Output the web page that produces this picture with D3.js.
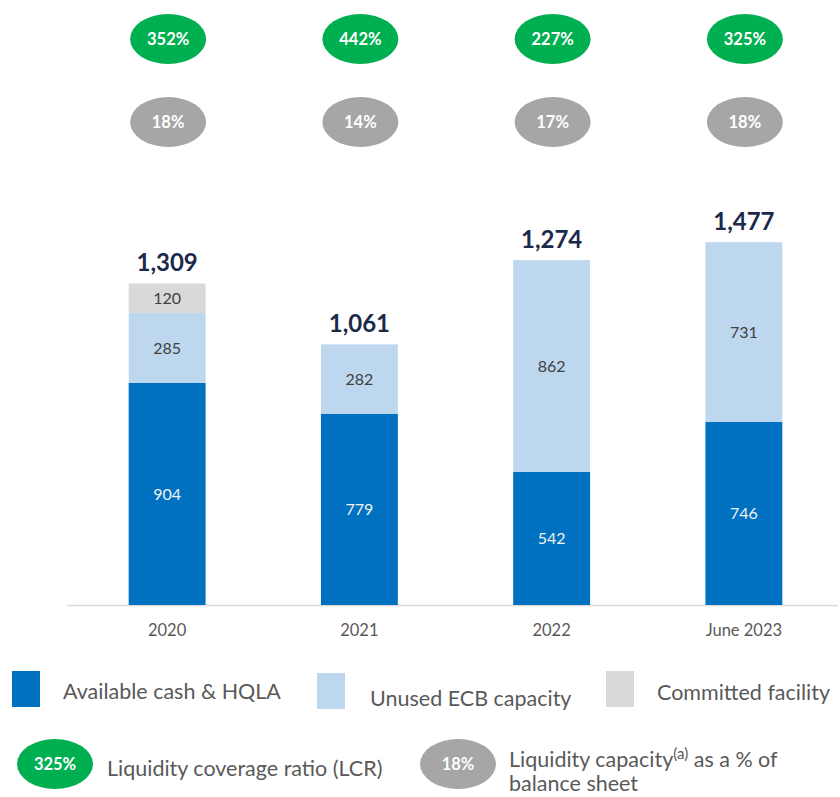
<!DOCTYPE html>
<html>
<head>
<meta charset="utf-8">
<script src="https://cdn.jsdelivr.net/npm/d3@7"></script>
<style>
  html, body { margin: 0; padding: 0; background: #fff; }
  svg { display: block; font-family: Lato, "Open Sans", sans-serif; }
</style>
</head>
<body>
<div id="chart"></div>
<script>
// chart data
const categories = ['2020', '2021', '2022', 'June 2023'];
const cashHqla = [904, 779, 542, 746];       // Available cash & HQLA
const unusedEcb = [285, 282, 862, 731];      // Unused ECB capacity
const committed = [120, 0, 0, 0];            // Committed facility
const totals = [1309, 1061, 1274, 1477];
const lcr = [352, 442, 227, 325];            // liquidity coverage ratio, %
const capacityPct = [18, 14, 17, 18];        // liquidity capacity as % of balance sheet

const seriesNames = ['Available cash & HQLA', 'Unused ECB capacity', 'Committed facility'];

const width = 840, height = 797;
const colour = d3.scaleOrdinal()
    .domain(seriesNames)
    .range(['#0070c0', '#bdd7ee', '#d9d9d9']);

const svg = d3.select('#chart').append('svg')
    .attr('width', width)
    .attr('height', height);

// scales
const x = d3.scaleBand()
    .domain(categories)
    .range([71, 840])
    .paddingInner(0.6)
    .paddingOuter(0.3);

const y = d3.scaleLinear()
    .domain([0, 1600])
    .range([605, 212]);

// stack the three series
const rows = categories.map((c, i) => ({
    cat: c,
    [seriesNames[0]]: cashHqla[i],
    [seriesNames[1]]: unusedEcb[i],
    [seriesNames[2]]: committed[i]
}));
const stacked = d3.stack().keys(seriesNames)(rows);

// baseline
svg.append('line')
    .attr('x1', 67).attr('x2', 838)
    .attr('y1', y(0) + 0.5).attr('y2', y(0) + 0.5)
    .attr('stroke', '#d9d9d9')
    .attr('stroke-width', 1.5);

// bars
const layer = svg.append('g').selectAll('g')
    .data(stacked)
    .enter().append('g')
        .attr('fill', d => colour(d.key));

layer.selectAll('rect')
    .data(d => d.map(p => Object.assign(p, { key: d.key })))
    .enter().append('rect')
        .attr('x', d => x(d.data.cat))
        .attr('width', x.bandwidth())
        .attr('y', d => y(d[1]))
        .attr('height', d => y(d[0]) - y(d[1]));

// segment labels
layer.selectAll('text')
    .data(d => d.filter(p => p[1] - p[0] > 0))
    .enter().append('text')
        .attr('x', d => x(d.data.cat) + x.bandwidth() / 2)
        .attr('y', d => (y(d[0]) + y(d[1])) / 2 + 6)
        .attr('text-anchor', 'middle')
        .attr('font-size', 16)
        .attr('fill', d => d.key === seriesNames[0] ? '#f2f2f2' : '#404040')
        .text(d => d[1] - d[0]);

// totals above bars
const barTop = categories.map((c, i) => cashHqla[i] + unusedEcb[i] + committed[i]);
svg.append('g').selectAll('text')
    .data(categories)
    .enter().append('text')
        .attr('x', d => x(d) + x.bandwidth() / 2)
        .attr('y', (d, i) => y(barTop[i]) - 12)
        .attr('text-anchor', 'middle')
        .attr('font-size', 24)
        .attr('font-weight', 'bold')
        .attr('fill', '#1b2a4a')
        .text((d, i) => d3.format(',')(totals[i]));

// x axis labels
const xAxis = d3.axisBottom(x).tickSize(0).tickPadding(0);
const gx = svg.append('g')
    .attr('transform', `translate(0, ${y(0)})`)
    .call(xAxis);
gx.select('.domain').remove();
gx.selectAll('text')
    .attr('dy', null)
    .attr('y', 31)
    .attr('font-family', 'Lato, "Open Sans", sans-serif')
    .attr('font-size', 16.5)
    .attr('fill', '#595959');

// ratio bubbles at top
function bubble(g, cx, cy, fill, label) {
    g.append('ellipse')
        .attr('cx', cx).attr('cy', cy)
        .attr('rx', 38).attr('ry', 25)
        .attr('fill', fill);
    g.append('text')
        .attr('x', cx).attr('y', cy + 6)
        .attr('text-anchor', 'middle')
        .attr('font-size', 16.5)
        .attr('font-weight', 'bold')
        .attr('fill', '#fff')
        .text(label);
}

const gBub = svg.append('g');
categories.forEach((c, i) => {
    const cx = x(c) + x.bandwidth() / 2 + 1;
    bubble(gBub, cx, 39, '#00b050', lcr[i] + '%');
    bubble(gBub, cx, 122, '#a6a6a6', capacityPct[i] + '%');
});

// legend: series swatches
const legendPos = [
    { sx: 12, sy: 671, tx: 63, ty: 699 },
    { sx: 317, sy: 673, tx: 370, ty: 706 },
    { sx: 606, sy: 671, tx: 657, ty: 700 }
];
const legend = svg.append('g').selectAll('g')
    .data(seriesNames)
    .enter().append('g');
legend.append('rect')
    .attr('x', (d, i) => legendPos[i].sx)
    .attr('y', (d, i) => legendPos[i].sy)
    .attr('width', 28).attr('height', 36)
    .attr('fill', d => colour(d));
legend.append('text')
    .attr('x', (d, i) => legendPos[i].tx)
    .attr('y', (d, i) => legendPos[i].ty)
    .attr('font-size', 21.5)
    .attr('fill', '#595959')
    .text(d => d);

// legend: bubbles
const gLeg = svg.append('g');
bubble(gLeg, 55, 764, '#00b050', lcr[3] + '%');
gLeg.append('text')
    .attr('x', 107).attr('y', 776)
    .attr('font-size', 21.5)
    .attr('fill', '#595959')
    .text('Liquidity coverage ratio (LCR)');

bubble(gLeg, 458, 764, '#a6a6a6', capacityPct[3] + '%');
const capText = gLeg.append('text')
    .attr('font-size', 21.5)
    .attr('fill', '#595959');
capText.append('tspan').attr('x', 509).attr('y', 767).text('Liquidity capacity');
capText.append('tspan').attr('dy', -8).attr('font-size', 15).text('(a)');
capText.append('tspan').attr('dy', 8).text(' as a % of');
capText.append('tspan').attr('x', 509).attr('y', 791).text('balance sheet');
</script>
</body>
</html>
